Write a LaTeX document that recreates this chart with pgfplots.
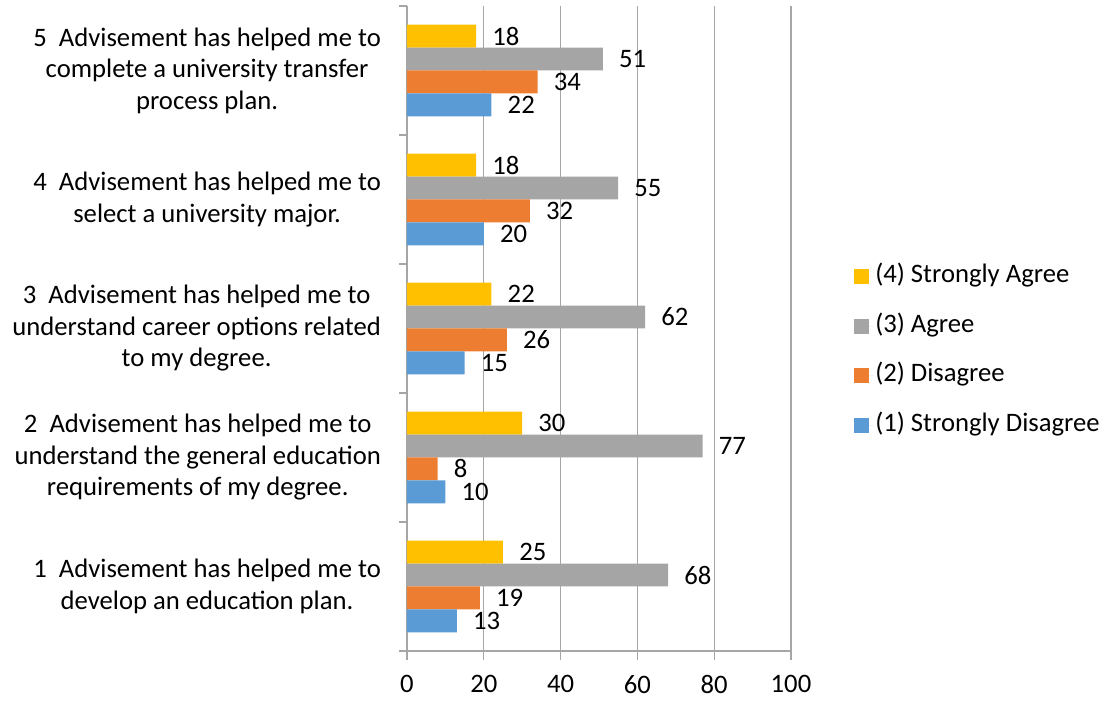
\documentclass[border=0pt]{standalone}
\usepackage{fontspec}
\setmainfont{Carlito}
\usepackage{pgfplots}
\pgfplotsset{compat=1.18}
\definecolor{cSA}{HTML}{FFC000}
\definecolor{cA}{HTML}{A5A5A5}
\definecolor{cD}{HTML}{ED7D31}
\definecolor{cSD}{HTML}{5B9BD5}
\definecolor{axgray}{HTML}{A6A6A6}
\pgfplotsset{/pgf/number format/assume math mode=true}
\begin{document}
\fontsize{20}{23.6}\selectfont
\begin{tikzpicture}
\begin{axis}[
  scale only axis, width=288pt, height=483.75pt,
  xmin=0, xmax=100, ymin=0.5, ymax=5.5,
  xbar, bar width=0.178,
  axis x line=bottom, axis y line=left,
  axis line style={draw=axgray, line width=0.9pt, -},
  tick align=outside,
  xtick={0,20,...,100},
  xmajorgrids, grid style={axgray, line width=0.9pt},
  ytick={1,...,5},
  minor ytick={0.5,1.5,...,5.5},
  major tick length=6.75pt, minor tick length=6pt,
  major y tick style={draw=none},
  minor y tick style={draw=axgray, line width=0.9pt},
  major x tick style={draw=axgray, line width=0.9pt},
  yticklabels={
    {1\ \ Advisement has helped me to\\develop an education plan.},
    {2\ \ Advisement has helped me to\\understand the general education\\requirements of my degree.},
    {3\ \ Advisement has helped me to\\understand career options related\\to my degree.},
    {4\ \ Advisement has helped me to\\select a university major.},
    {5\ \ Advisement has helped me to\\complete a university transfer\\process plan.}},
  yticklabel style={align=center, font=\fontsize{20}{23.6}\selectfont, xshift=-6pt},
  xticklabel style={font=\fontsize{20}{24}\selectfont, inner sep=1pt, yshift=-10.5pt},
  nodes near coords,
  every node near coord/.append style={anchor=west, inner sep=2pt, xshift=10pt, font=\fontsize{20}{24}\selectfont, text=black},
  legend cell align=left,
  legend style={draw=none, at={(1,0.465)}, anchor=west, xshift=43.75pt,
    font=\fontsize{20}{24}\selectfont, row sep=16.1pt,
    nodes={inner sep=1pt, text height=14pt, text depth=5pt}},
  legend image code/.code={\fill[#1] (0pt,-5.6pt) rectangle (11.25pt,5.6pt); \path (0pt,0pt) -- (15.25pt,0pt);},
]
\addplot[fill=cSA, draw=none, bar shift=0.267] coordinates {(25,1) (30,2) (22,3) (18,4) (18,5)};
\addplot[fill=cA, draw=none, bar shift=0.089] coordinates {(68,1) (77,2) (62,3) (55,4) (51,5)};
\addplot[fill=cD, draw=none, bar shift=-0.089] coordinates {(19,1) (8,2) (26,3) (32,4) (34,5)};
\addplot[fill=cSD, draw=none, bar shift=-0.267] coordinates {(13,1) (10,2) (15,3) (20,4) (22,5)};
\legend{(4) Strongly Agree,(3) Agree,(2) Disagree,(1) Strongly Disagree}
\end{axis}
\pgfresetboundingbox
\path (current axis.south west) ++(-305.25pt,-36.75pt) rectangle ++(830.25pt,525pt);
\end{tikzpicture}
\end{document}
